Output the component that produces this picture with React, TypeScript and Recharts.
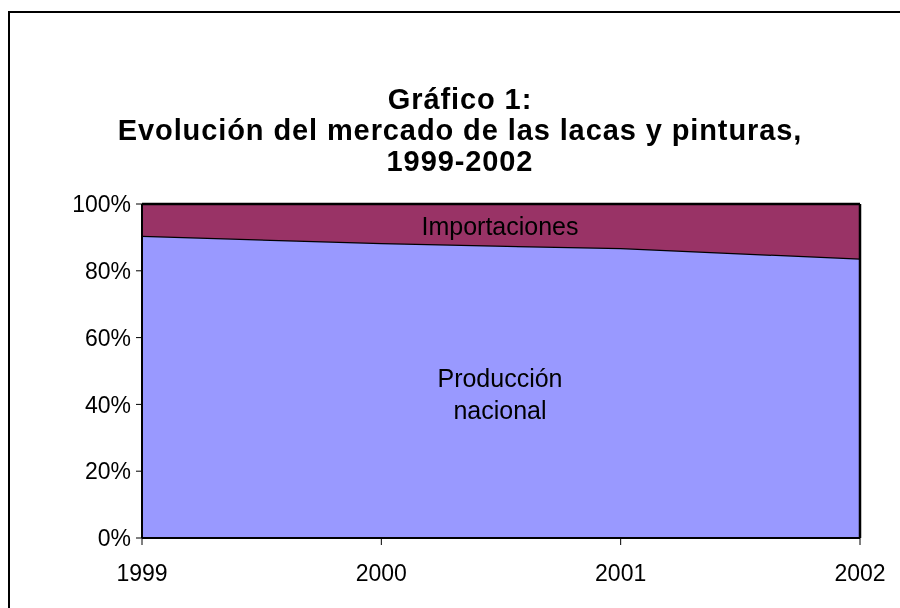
import React from 'react';
import { AreaChart, Area, XAxis, YAxis, ReferenceLine } from 'recharts';

const years = ['1999', '2000', '2001', '2002'];
const produccionNacional = [90.5, 88.3, 86.8, 83.7];
const importaciones = [9.5, 11.7, 13.2, 16.3];
const yTicks = [0, 20, 40, 60, 80, 100];
const titleLines = ['Gráfico 1:', 'Evolución del mercado de las lacas y pinturas,', '1999-2002'];

const data = years.map((y, i) => ({ year: y, prod: produccionNacional[i], imp: importaciones[i] }));

const FONT = '"Liberation Sans", Arial, Helvetica, sans-serif';

export default function App() {
  return (
    <div style={{ position: 'relative', width: 884, height: 585, fontFamily: FONT, overflow: 'hidden' }}>
      <div style={{ position: 'fixed', left: 8, top: 11, right: -20, bottom: -20, borderLeft: '2px solid #000', borderTop: '2px solid #000', pointerEvents: 'none' }} />
      <div style={{ position: 'absolute', left: 20, top: 76, width: 864, textAlign: 'center', fontWeight: 'bold', fontSize: 29, letterSpacing: 0.9, lineHeight: '31px', color: '#000' }}>
        {titleLines.map((t) => (<div key={t}>{t}</div>))}
      </div>
      <AreaChart width={884} height={585} data={data} margin={{ top: 196, right: 32, bottom: 15, left: 74 }}>
        <XAxis dataKey="year" tickLine={{ stroke: '#000' }} axisLine={{ stroke: '#000', strokeWidth: 2 }} tickSize={7} tickMargin={20} tick={{ fill: '#000', fontSize: 23, fontFamily: FONT }} height={40} interval={0} />
        <YAxis domain={[0, 100]} ticks={yTicks} tickFormatter={(v) => `${v}%`} tickLine={{ stroke: '#000' }} axisLine={{ stroke: '#000', strokeWidth: 2 }} tickSize={6} tickMargin={5} tick={{ fill: '#000', fontSize: 23, fontFamily: FONT }} width={60} />
        <Area type="linear" dataKey="prod" stackId="1" stroke="#000" strokeWidth={2.5} fill="#9999FF" fillOpacity={1} isAnimationActive={false} />
        <Area type="linear" dataKey="imp" stackId="1" stroke="#000" strokeWidth={2.5} fill="#993366" fillOpacity={1} isAnimationActive={false} />
        <ReferenceLine x="2002" stroke="#000" strokeWidth={2.5} />
      </AreaChart>
      <div style={{ position: 'absolute', left: 342, top: 204, width: 300, textAlign: 'center', fontSize: 25, lineHeight: '28px', color: '#000' }}>Importaciones</div>
      <div style={{ position: 'absolute', left: 342, top: 354, width: 300, textAlign: 'center', fontSize: 25, lineHeight: '32px', color: '#000' }}>
        <div>Producción</div>
        <div>nacional</div>
      </div>
    </div>
  );
}
